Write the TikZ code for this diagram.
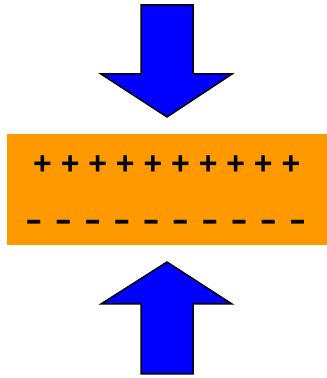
\documentclass[tikz,border=0pt]{standalone}
\usepackage{fontspec}
\setmainfont{Liberation Sans}
\begin{document}
\begin{tikzpicture}[x=1pt,y=1pt,
  pressarrow/.style={draw=black,line width=1.5pt,fill={rgb,255:red,0;green,0;blue,255},line join=miter},
  plate/.style={fill={rgb,255:red,255;green,153;blue,0}},
  pluscharge/.style={inner sep=0pt,anchor=base,font=\bfseries\fontsize{32}{32}\selectfont},
  minuscharge/.style={inner sep=0pt,anchor=base,font=\bfseries\fontsize{32}{32}\selectfont}]
  \useasboundingbox (0,0) rectangle (327,378);
  % top arrow pressing down
  \draw[pressarrow] (141,373) -- (193,373) -- (193,304) -- (232,304) -- (167,261)
    -- (101,304) -- (141,304) -- cycle;
  % charged plate
  \fill[plate] (7,133) rectangle (327,244);
  % bottom arrow pressing up
  \draw[pressarrow] (141,4) -- (193,4) -- (193,74) -- (232,74) -- (167,116)
    -- (101,74) -- (141,74) -- cycle;
  % positive charges
  \foreach \i [count=\k] in {0,...,9}{
    \node[pluscharge] (p\k) at ({42.5+27.6*\i},203.8) {+};
  }
  % negative charges
  \foreach \i [count=\k] in {0,...,9}{
    \node[minuscharge] (m\k) at ({34+29.3*\i},147.5) {\scalebox{1.6}[1]{-}};
  }
\end{tikzpicture}
\end{document}
